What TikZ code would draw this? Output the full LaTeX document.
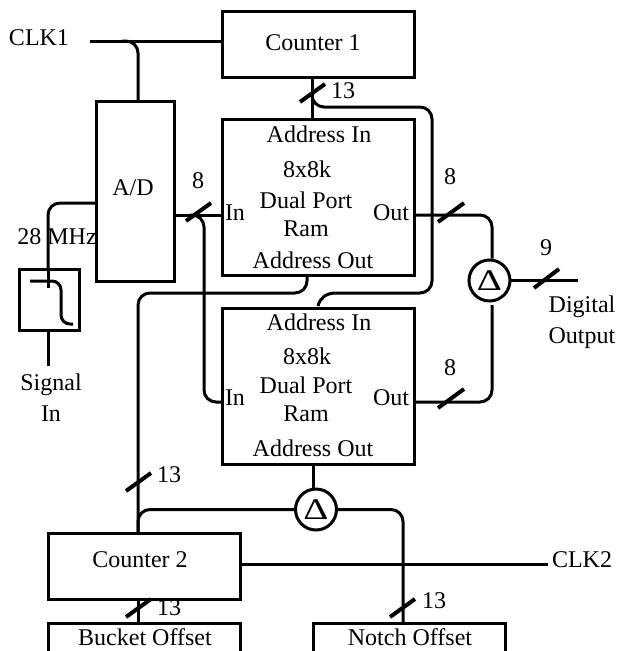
\documentclass[tikz,border=0pt]{standalone}
\usepackage{fontspec}
\setmainfont{Liberation Serif}
\begin{document}
\begin{tikzpicture}[x=1pt,y=-1pt,
  every node/.style={inner sep=0pt,outer sep=0pt},
  box/.style={draw=black,line width=3pt,minimum width=#1,anchor=north west,rectangle},
  lbl/.style={font=\fontsize{24}{28}\selectfont,text=black,anchor=center},
  wire/.style={draw=black,line width=3pt,rounded corners=12pt,line cap=butt},
  busmark/.style={draw=black,line width=4pt},
  delta/.style={circle,draw=black,line width=3pt,minimum size=41pt,font=\fontsize{30}{30}\selectfont}]
\useasboundingbox (0,0) rectangle (624,651);
\clip (0,0) rectangle (624,651);
% boxes
\node[box=192pt,minimum height=66pt] (c1) at (222,11) {};
\node[box=192pt,minimum height=156pt] (ram1) at (222,119) {};
\node[box=192pt,minimum height=156pt] (ram2) at (222,308) {};
\node[box=78pt,minimum height=180pt] (ad) at (96,101) {};
\node[box=60pt,minimum height=61pt] (filt) at (19,269) {};
\node[box=192pt,minimum height=66pt] (c2) at (48,533) {};
\node[box=192pt,minimum height=60pt] (bucket) at (48,623) {};
\node[box=192pt,minimum height=60pt] (notch) at (313,623) {};
\node[delta] (d1) at (489.5,280.5) {\scalebox{1.3}[1]{Δ}};
\node[delta] (d2) at (316,509.5) {\scalebox{1.3}[1]{Δ}};
% free ends and ports
\coordinate (clk1end) at (90,41);
\coordinate (clk1in) at (222,41);
\coordinate (adtop) at (138,101);
\coordinate (adclk) at (96,203);
\coordinate (filttop) at (48,269);
\coordinate (filtbot) at (48,330);
\coordinate (sigend) at (48,366);
\coordinate (adout) at (174,215);
\coordinate (r1in) at (222,215);
\coordinate (r2in) at (222,402);
\coordinate (r1out) at (414,215);
\coordinate (r2out) at (414,402);
\coordinate (r1aout) at (307,275);
\coordinate (c1bot) at (312,77);
\coordinate (r1top) at (312,119);
\coordinate (r2atop) at (318,306);
\coordinate (c2top) at (138,533);
\coordinate (c2bot) at (138,599);
\coordinate (bucktop) at (138,623);
\coordinate (r2bot) at (313,464);
\coordinate (notchtop) at (403,623);
\coordinate (c2right) at (240,564);
\coordinate (clk2end) at (548,564);
\coordinate (dout) at (578,280.5);
\coordinate (retjoin) at (336,293);
% connectors
\draw[wire] (clk1end) -- (clk1in);
\draw[wire] (122,41) -- (138,41) -- (adtop);
\draw[wire] (adclk) -- (48,203) -- (filttop);
\draw[wire] (filtbot) -- (sigend);
\draw[wire] (adout) -- (r1in);
\draw[wire] (190,215) -- (204,215) -- (204,402) -- (r2in);
\draw[wire] (r1aout) -- (307,293) -- (138,293) -- (c2top);
\draw[wire] (c1bot) -- (r1top);
\draw[wire] (312,93) -- (312,107) -- (432,107) -- (432,293) -- (retjoin);
\draw[wire] (retjoin) .. controls (326,293) and (320,298) .. (r2atop);
\draw[wire] (r1out) -- (492,215) -- (492,258.5);
\draw[wire] (r2out) -- (492,402) -- (492,305);
\draw[wire] (d1) -- (dout);
\draw[wire] (r2bot) -- (313,488);
\draw[wire] (d2) -- (138,509.5) -- (138,533);
\draw[wire] (d2) -- (403,509.5) -- (notchtop);
\draw[wire] (c2right) -- (clk2end);
\draw[wire] (c2bot) -- (bucktop);
% filter symbol
\draw[wire,rounded corners=9pt] (30,281) -- (61,281) -- (61,324) -- (73,324);
\draw[wire] (48,269) -- (48,288);
% bus marks
\draw[busmark] (186,221) -- (211,203);
\draw[busmark] (300,102) -- (325,84);
\draw[busmark] (438,222) -- (464,203);
\draw[busmark] (534,288) -- (559,269);
\draw[busmark] (438,408) -- (464,389);
\draw[busmark] (126,491) -- (151,473);
\draw[busmark] (126,617) -- (151,599);
\draw[busmark] (390,617) -- (415,599);
% labels
\node[lbl] (tclk1) at (39,38) {CLK1};
\node[lbl] (tc1) at (313,43) {Counter 1};
\node[lbl] (tad) at (133,188) {A/D};
\node[lbl] (t28) at (57,237) {28 MHz};
\node[lbl] (tsig) at (51,385) {Signal};
\node[lbl] (tin) at (51,414) {In};
\node[lbl] (ta1) at (319,134) {Address In};
\node[lbl] (tb1) at (307,169) {8x8k};
\node[lbl] (tdp1) at (306,200) {Dual Port};
\node[lbl] (tr1) at (306,229) {Ram};
\node[lbl] (tao1) at (313,260) {Address Out};
\node[lbl] (ti1) at (235,213) {In};
\node[lbl] (to1) at (391,213) {Out};
\node[lbl] (ta2) at (319,322) {Address In};
\node[lbl] (tb2) at (307,356) {8x8k};
\node[lbl] (tdp2) at (306,385) {Dual Port};
\node[lbl] (tr2) at (306,414) {Ram};
\node[lbl] (tao2) at (313,448) {Address Out};
\node[lbl] (ti2) at (235,398) {In};
\node[lbl] (to2) at (391,398) {Out};
\node[lbl] (tc2) at (140,560) {Counter 2};
\node[lbl] (tbo) at (145,637) {Bucket Offset};
\node[lbl] (tno) at (410,637) {Notch Offset};
\node[lbl] (tclk2) at (582,560) {CLK2};
\node[lbl] (tdig) at (582,307) {Digital};
\node[lbl] (tout) at (582,338) {Output};
\node[lbl] (n13a) at (343,91) {13};
\node[lbl] (n13b) at (169,475) {13};
\node[lbl] (n13c) at (169,608) {13};
\node[lbl] (n13d) at (434,601) {13};
\node[lbl] (n8a) at (198,181) {8};
\node[lbl] (n8b) at (450,177) {8};
\node[lbl] (n8c) at (450,368) {8};
\node[lbl] (n9) at (546,248) {9};
\end{tikzpicture}
\end{document}
